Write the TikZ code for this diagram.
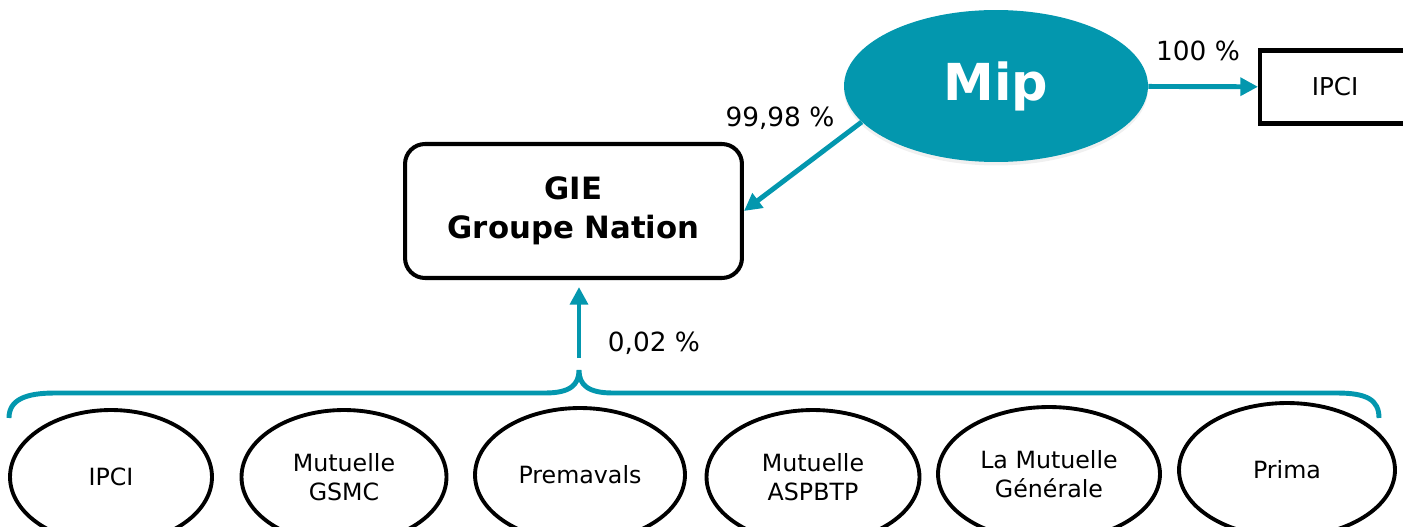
\documentclass[tikz,border=0pt]{standalone}
\usepackage{fontspec}
\setmainfont{DejaVu Sans}
\usetikzlibrary{shapes.geometric,arrows.meta,shadows}
\definecolor{mipblue}{HTML}{0397AE}

\begin{document}
\begin{tikzpicture}
	 [x=0.02cm,y=-0.02cm,
	  every node/.style={font=\fontsize{13.5}{16.5}\selectfont,align=center,inner sep=0pt},
	  member/.style={ellipse,draw,line width=2.2pt,minimum height=2.68cm},
	  pct/.style={font=\fontsize{15}{18}\selectfont},
	  link/.style={draw=mipblue,line width=2.8pt,-{Triangle[length=10pt,width=10pt]}}]

	\useasboundingbox (0,0) rectangle (1403,527);

	  % top
	  \node[ellipse,fill=mipblue,text=white,minimum width=6.08cm,minimum height=3.04cm,
	        drop shadow={opacity=0.12,shadow xshift=0cm,shadow yshift=-0.07cm},
	        font=\fontsize{29}{34}\selectfont\bfseries] (mip) at (996,86) {Mip};
	  \node[draw,line width=2.3pt,minimum width=3cm,minimum height=1.46cm,
	        font=\fontsize{14}{17}\selectfont] (ipci) at (1335,87) {IPCI};
	  \node[draw,line width=2.3pt,rounded corners=0.4cm,minimum width=6.74cm,minimum height=2.68cm,
	        font=\fontsize{17.5}{22}\selectfont\bfseries] (gie) at (573.5,211) {GIE\\Groupe Nation};

	  % members
	  \node[member,minimum width=4.04cm] (p1) at (111,477) {IPCI};
	  \node[member,minimum width=4.1cm] (p2) at (344,477) {Mutuelle\\GSMC};
	  \node[member,minimum width=4.2cm] (p3) at (580,475) {Premavals};
	  \node[member,minimum width=4.26cm] (p4) at (813,477) {Mutuelle\\ASPBTP};
	  \node[member,minimum width=4.44cm] (p5) at (1049,474) {La Mutuelle\\Générale};
	  \node[member,minimum width=4.32cm] (p6) at (1287,470) {Prima};

	  % labels
	  \node[pct] (l1) at (1198,51) {100 \%};
	  \node[pct] (l2) at (780,118) {99,98 \%};
	  \node[pct] (l3) at (654,343) {0,02 \%};

	  % brace
	  \coordinate (tip) at (579,370);
	  \coordinate (stem) at (579,358);
	\draw[mipblue,line width=2.8pt] (9,418) .. controls (9,400) and (25,393) .. (55,393) -- (545,393)
	    .. controls (570,393) and (579,385) .. (tip) .. controls (579,385) and (588,393) .. (613,393)
	    -- (1337,393) .. controls (1367,393) and (1379,400) .. (1379,418);

	\draw[link] (mip) -- (ipci);
	\draw[link] (mip.195) -- (gie.east);
	\draw[link,shorten >=0.14cm] (stem) -- (stem |- gie.south);

\end{tikzpicture}
\end{document}
